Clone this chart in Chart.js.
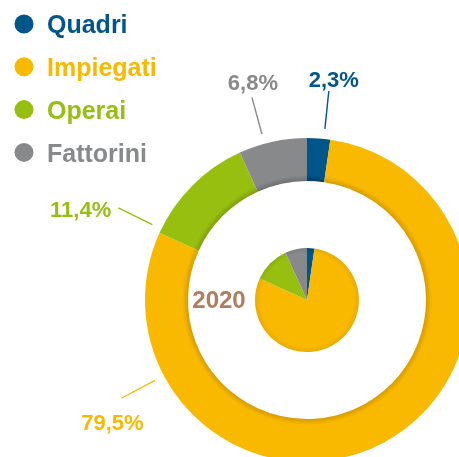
<!DOCTYPE html>
<html>
<head>
<meta charset="utf-8">
<script src="https://cdn.jsdelivr.net/npm/chart.js@4/dist/chart.umd.min.js"></script>
<style>
  html, body { margin: 0; padding: 0; background: #ffffff; overflow: hidden; }
  #wrap { position: relative; width: 459px; height: 457px; overflow: hidden; background: #fff; }
  #c { position: absolute; left: 0; top: 0; }
</style>
</head>
<body>
<div id="wrap"><canvas id="c" width="620" height="610" style="width:620px;height:610px"></canvas></div>
<script>
// ---- data ----
const categories = ['Quadri', 'Impiegati', 'Operai', 'Fattorini'];
const values2020 = [2.3, 79.5, 11.4, 6.8];
const valueLabels = ['2,3%', '79,5%', '11,4%', '6,8%'];
const yearLabel = '2020';

// ---- styles ----
const colors = ['#00558B', '#F9B900', '#97BF0F', '#88898B'];
const shadeColors = ['#003F68', '#D89C00', '#7EA00A', '#6F7072'];
const softShadeColors = ['#004A79', '#E8AB00', '#8AAF0C', '#7C7D7F'];
const textColors = ['#00558B', '#F9B900', '#97BF0F', '#88898B'];
const yearColor = '#B27C5E';
const FONT = '"Liberation Sans", Arial, Helvetica, sans-serif';

// label placement: fraction along each arc, and text offset from the outer end of the leader
const labelPlacement = [
  { frac: 0.72, dx: 5, dy: -4.5, align: 'center' },
  { frac: 0.817, dx: -9, dy: 32, align: 'center' },
  { frac: 0.037, dx: -7, dy: 9, align: 'right' },
  { frac: 0.379, dx: 1, dy: -7.5, align: 'center' }
];

function center(chart) {
  const a = chart.chartArea;
  return { x: (a.left + a.right) / 2, y: (a.top + a.bottom) / 2 };
}

function ringColor(ctx) {
  const chart = ctx.chart;
  const i = ctx.dataIndex;
  if (!chart.chartArea) return colors[i];
  const c = center(chart);
  const R = Math.min(chart.chartArea.width, chart.chartArea.height) / 2;
  const rIn = R * (119 / 162);
  const g = chart.ctx.createRadialGradient(c.x, c.y, rIn, c.x, c.y, R);
  g.addColorStop(0, shadeColors[i]);
  g.addColorStop(0.14, colors[i]);
  g.addColorStop(1, colors[i]);
  return g;
}

function pieColor(ctx) {
  const chart = ctx.chart;
  const i = ctx.dataIndex;
  if (!chart.chartArea) return colors[i];
  const c = center(chart);
  const R = Math.min(chart.chartArea.width, chart.chartArea.height) / 2;
  const r = R * (52 / 162);
  const g = chart.ctx.createRadialGradient(c.x, c.y, 0, c.x, c.y, r);
  g.addColorStop(0, colors[i]);
  g.addColorStop(0.9, colors[i]);
  g.addColorStop(1, softShadeColors[i]);
  return g;
}

const overlay = {
  id: 'overlay',
  afterDraw(chart) {
    const ctx = chart.ctx;
    ctx.save();
    // legend
    ctx.font = 'bold 25px ' + FONT;
    ctx.textAlign = 'left';
    ctx.textBaseline = 'alphabetic';
    categories.forEach((name, i) => {
      const cy = 24 + i * 42.8;
      ctx.fillStyle = colors[i];
      ctx.beginPath();
      ctx.arc(24, cy, 9.5, 0, Math.PI * 2);
      ctx.fill();
      ctx.fillStyle = textColors[i];
      ctx.fillText(name, 47, cy + 9.3);
    });

    // value labels with leader lines
    const meta = chart.getDatasetMeta(0);
    meta.data.forEach((arc, i) => {
      const p = arc.getProps(['x', 'y', 'startAngle', 'endAngle', 'outerRadius'], true);
      const pl = labelPlacement[i];
      const a = p.startAngle + pl.frac * (p.endAngle - p.startAngle);
      const r1 = p.outerRadius + 10;
      const r2 = p.outerRadius + 48;
      const x1 = p.x + r1 * Math.cos(a), y1 = p.y + r1 * Math.sin(a);
      const x2 = p.x + r2 * Math.cos(a), y2 = p.y + r2 * Math.sin(a);
      ctx.strokeStyle = textColors[i];
      ctx.lineWidth = 1.4;
      ctx.beginPath();
      ctx.moveTo(x1, y1);
      ctx.lineTo(x2, y2);
      ctx.stroke();
      ctx.fillStyle = textColors[i];
      ctx.font = 'bold 22px ' + FONT;
      ctx.textAlign = pl.align;
      ctx.fillText(valueLabels[i], x2 + pl.dx, y2 + pl.dy);
    });

    // year label
    const c = center(chart);
    ctx.fillStyle = yearColor;
    ctx.font = 'bold 24px ' + FONT;
    ctx.textAlign = 'center';
    ctx.fillText(yearLabel, c.x - 88, c.y + 8);
    ctx.restore();
  }
};

new Chart(document.getElementById('c'), {
  type: 'doughnut',
  data: {
    labels: categories,
    datasets: [
      { data: values2020, backgroundColor: ringColor, weight: 43, borderWidth: 0 },
      { data: [1], backgroundColor: 'rgba(0,0,0,0)', weight: 67, borderWidth: 0 },
      { data: values2020, backgroundColor: pieColor, weight: 52, borderWidth: 0 }
    ]
  },
  options: {
    responsive: false,
    animation: false,
    cutout: 0,
    layout: { padding: { left: 145, top: 138, right: 151, bottom: 148 } },
    plugins: { legend: { display: false }, tooltip: { enabled: false } },
    events: []
  },
  plugins: [overlay]
});
</script>
</body>
</html>
